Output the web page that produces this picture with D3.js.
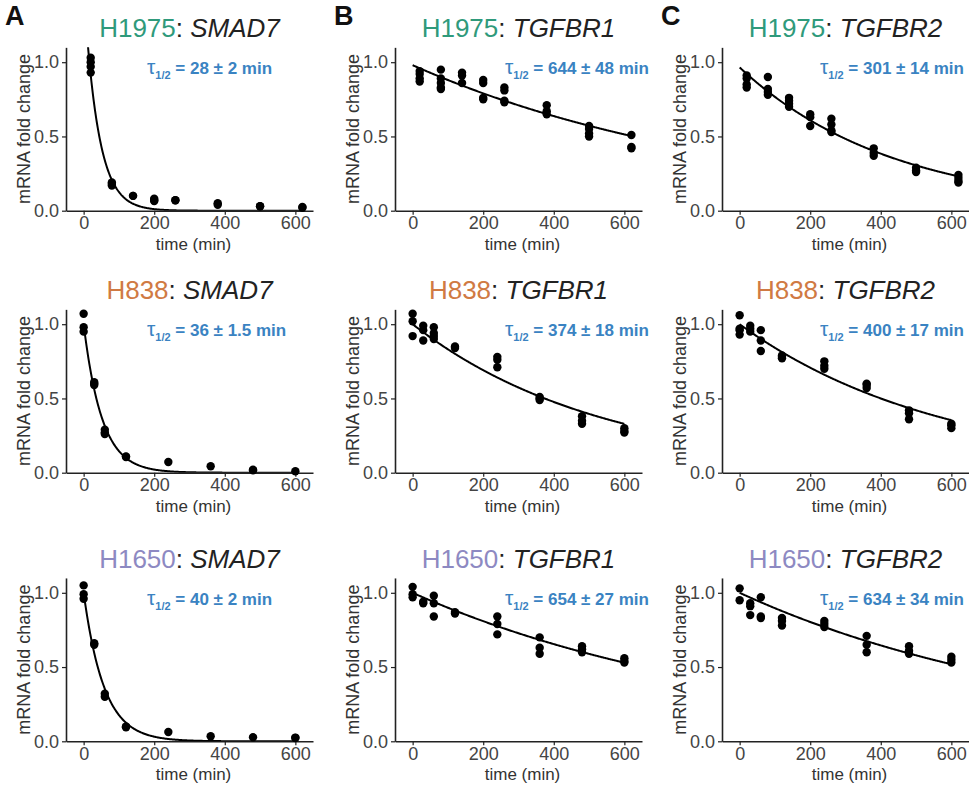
<!DOCTYPE html>
<html>
<head>
<meta charset="utf-8">
<script src="https://cdn.jsdelivr.net/npm/d3@7"></script>
<style>
  body { margin: 0; background: #fff; }
  svg { font-family: Arial, "Liberation Sans", Helvetica, sans-serif; }
</style>
</head>
<body>
<script>
var width = 969, height = 793;

// rows = cell lines, columns = genes
var cellLines = ["H1975", "H838", "H1650"];
var cellColors = ["#2f9a7b", "#d07a43", "#8d89c2"];
var genes = ["SMAD7", "TGFBR1", "TGFBR2"];
var panelLetters = ["A", "B", "C"];

// sampling times (min)
var timesH1975 = [20, 80, 140, 200, 260, 380, 500, 620];
var timesOther = [0, 30, 60, 120, 240, 360, 480, 600];

// half-lives of the fits
var tauHalf = [[28, 644, 301], [36, 374, 400], [40, 654, 634]];
var tauErr = [["2", "48", "14"], ["1.5", "18", "17"], ["2", "27", "34"]];
// fit amplitude at t=0 and where the fit line starts
var fitAmp = [[1.5, 0.98, 0.965], [1.0, 1.0, 1.0], [1.0, 1.0, 1.0]];
var fitStart = [[12, 0, 0], [0, 0, 0], [0, 0, 0]];

// replicate fold changes, one inner array per time point
var h1975_SMAD7 = [[1.03, 1.0, 0.97, 0.93], [0.19, 0.18, 0.17], [0.10, 0.10], [0.08, 0.07, 0.065],
  [0.07, 0.07], [0.05, 0.04], [0.03, 0.03], [0.025, 0.02]];
var h1975_TGFBR1 = [[0.94, 0.92, 0.89, 0.87], [0.95, 0.89, 0.86, 0.83, 0.82], [0.93, 0.91, 0.86],
  [0.88, 0.86, 0.76, 0.75], [0.83, 0.81, 0.74, 0.73], [0.71, 0.67, 0.65], [0.57, 0.55, 0.52, 0.50], [0.51, 0.43, 0.42]];
var h1975_TGFBR2 = [[0.91, 0.89, 0.85, 0.83], [0.90, 0.82, 0.80, 0.78], [0.76, 0.74, 0.72, 0.70],
  [0.65, 0.63, 0.57], [0.62, 0.58, 0.54, 0.53], [0.42, 0.39, 0.37], [0.29, 0.27, 0.26], [0.24, 0.22, 0.20, 0.19]];

var h838_SMAD7 = [[1.07, 0.98, 0.95], [0.61, 0.60, 0.59], [0.29, 0.27, 0.26], [0.11, 0.106],
  [0.072], [0.043], [0.02, 0.016], [0.01]];
var h838_TGFBR1 = [[1.07, 1.02, 0.92], [0.99, 0.96, 0.89], [0.98, 0.94, 0.92, 0.90], [0.85, 0.84],
  [0.78, 0.76, 0.71], [0.51, 0.50, 0.49], [0.38, 0.35, 0.33], [0.30, 0.28, 0.27]];
var h838_TGFBR2 = [[1.06, 0.97, 0.96, 0.93], [0.99, 0.97, 0.95], [0.96, 0.89, 0.82], [0.79, 0.78, 0.77],
  [0.75, 0.72, 0.70], [0.60, 0.59, 0.57], [0.42, 0.40, 0.36], [0.33, 0.32, 0.30]];

var h1650_SMAD7 = [[1.05, 0.99, 0.96], [0.66, 0.65], [0.32, 0.30], [0.10, 0.094],
  [0.063], [0.034], [0.027], [0.025, 0.022]];
var h1650_TGFBR1 = [[1.04, 0.99, 0.97], [0.94, 0.93], [0.98, 0.93, 0.84], [0.87, 0.86],
  [0.84, 0.79, 0.72], [0.70, 0.63, 0.59], [0.64, 0.62, 0.60], [0.56, 0.54, 0.53]];
var h1650_TGFBR2 = [[1.03, 0.95], [0.93, 0.91, 0.85], [0.97, 0.84, 0.83], [0.83, 0.81, 0.78],
  [0.81, 0.79, 0.77], [0.71, 0.65, 0.60], [0.64, 0.61, 0.59], [0.57, 0.55, 0.53]];

var panelValues = [
  [h1975_SMAD7, h1975_TGFBR1, h1975_TGFBR2],
  [h838_SMAD7, h838_TGFBR1, h838_TGFBR2],
  [h1650_SMAD7, h1650_TGFBR1, h1650_TGFBR2]
];
var rowTimes = [timesH1975, timesOther, timesOther];

var xTicks = [0, 200, 400, 600];
var yTicks = [0, 0.5, 1.0];

// layout
var colAxisX = [66, 395, 722],
    rowZeroY = [210.7, 472.7, 741.3],
    plotW = 247,
    unitH = 148.5,
    tauOffset = [81, 110, 98];

var svg = d3.select("body").append("svg")
    .attr("width", width)
    .attr("height", height);

var defs = svg.append("defs");

panelLetters.forEach(function(l, c) {
  svg.append("text")
    .attr("x", colAxisX[c] - 61)
    .attr("y", 25)
    .attr("font-size", 27)
    .attr("font-weight", "bold")
    .attr("fill", "#111")
    .text(l);
});

cellLines.forEach(function(cell, r) {
  genes.forEach(function(gene, c) {
    var x0 = colAxisX[c], y0 = rowZeroY[r];
    var x = d3.scaleLinear().domain([-50, 650]).range([x0, x0 + plotW]);
    var y = d3.scaleLinear().domain([0, 1.1]).range([y0, y0 - 1.1 * unitH]);
    var times = rowTimes[r];
    var vals = panelValues[r][c];

    var g = svg.append("g");

    var clipId = "clip" + r + c;
    defs.append("clipPath").attr("id", clipId)
      .append("rect")
        .attr("x", x0).attr("y", y(1.1))
        .attr("width", plotW).attr("height", y(0) - y(1.1));

    // x axis
    var xa = g.append("g")
      .attr("transform", "translate(0," + y0 + ")")
      .call(d3.axisBottom(x).tickValues(xTicks).tickSize(4).tickPadding(2).tickSizeOuter(0));
    xa.select(".domain").attr("stroke", "#222").attr("stroke-width", 1.6);
    xa.selectAll(".tick line").attr("stroke", "#222").attr("stroke-width", 1.2);
    xa.selectAll(".tick text").attr("font-size", 18).attr("fill", "#444").attr("font-family", null);

    // y axis
    var ya = g.append("g")
      .attr("transform", "translate(" + x0 + ",0)")
      .call(d3.axisLeft(y).tickValues(yTicks).tickFormat(d3.format(".1f")).tickSize(4).tickPadding(3).tickSizeOuter(0));
    ya.select(".domain").attr("stroke", "#222").attr("stroke-width", 1.6);
    ya.selectAll(".tick line").attr("stroke", "#222").attr("stroke-width", 1.2);
    ya.selectAll(".tick text").attr("font-size", 18).attr("fill", "#444").attr("font-family", null);

    // points
    var pts = [];
    times.forEach(function(t, i) {
      vals[i].forEach(function(v) { pts.push({t: t, v: v}); });
    });
    g.append("g").selectAll("circle")
      .data(pts)
      .enter().append("circle")
        .attr("cx", function(d) { return x(d.t); })
        .attr("cy", function(d) { return y(d.v); })
        .attr("r", 4.2)
        .attr("fill", "#000");

    // fit line
    var tEnd = times[times.length - 1];
    var fit = d3.range(fitStart[r][c], tEnd + 0.5, 2).map(function(t) {
      return [t, fitAmp[r][c] * Math.pow(2, -t / tauHalf[r][c])];
    });
    g.append("path")
      .datum(fit)
      .attr("clip-path", "url(#" + clipId + ")")
      .attr("fill", "none")
      .attr("stroke", "#000")
      .attr("stroke-width", 2)
      .attr("d", d3.line().x(function(d) { return x(d[0]); }).y(function(d) { return y(d[1]); }));

    // title
    var title = g.append("text")
      .attr("x", x0 + plotW / 2)
      .attr("y", y(1) - 25)
      .attr("text-anchor", "middle")
      .attr("font-size", 26);
    title.append("tspan").attr("fill", cellColors[r]).text(cell);
    title.append("tspan").attr("fill", "#222").text(": ");
    title.append("tspan").attr("fill", "#222").attr("font-style", "italic").text(gene);

    // half-life label
    var tau = g.append("text")
      .attr("x", x0 + tauOffset[c])
      .attr("y", y(1) + 12)
      .attr("fill", "#3a83c2")
      .attr("font-weight", "bold")
      .attr("font-size", 17);
    tau.append("tspan").attr("font-size", 21).attr("font-weight", "normal").text("τ");
    tau.append("tspan").attr("font-size", 11).attr("dy", 5).text("1/2");
    tau.append("tspan").attr("dy", -5).text(" = " + tauHalf[r][c] + " ± " + tauErr[r][c] + " min");

    // axis labels
    g.append("text")
      .attr("transform", "translate(" + (x0 - 36) + "," + y(0.55) + ") rotate(-90)")
      .attr("text-anchor", "middle")
      .attr("font-size", 18)
      .attr("fill", "#333")
      .text("mRNA fold change");

    g.append("text")
      .attr("x", x0 + plotW / 2 + 4)
      .attr("y", y0 + 39)
      .attr("text-anchor", "middle")
      .attr("font-size", 17)
      .attr("fill", "#333")
      .text("time (min)");
  });
});
</script>
</body>
</html>
